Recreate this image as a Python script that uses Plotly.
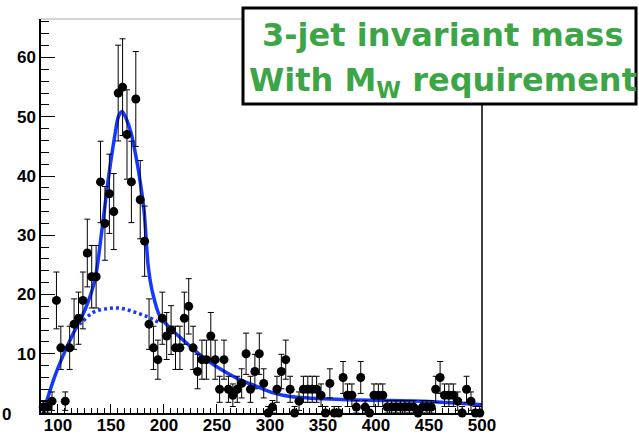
import numpy as np
import plotly.graph_objects as go

# ---------------- data ----------------
x_lo, x_hi, n_bins = 84.0, 500.0, 100
bin_edges = np.linspace(x_lo, x_hi, n_bins + 1)
bin_centers = 0.5 * (bin_edges[:-1] + bin_edges[1:])

counts = [
    1, 1, 2, 19, 11, 2, 11, 15, 16, 19,
    27, 23, 23, 39, 32, 37, 34, 54, 55, 47,
    39, 53, 36, 29, 15, 11, 9, 16, 13, 14,
    11, 11, 16, 18, 11, 7, 9, 9, 13, 9,
    4, 9, 4, 3, 4, 5, 10, 4, 7, 10,
    5, 0, 1, 4, 7, 9, 4, 0, 2, 4,
    4, 4, 4, 3, 0, 5, 0, 0, 6, 3,
    3, 1, 6, 1, 0, 3, 3, 3, 1, 1,
    1, 1, 1, 1, 1, 0, 1, 1, 1, 4,
    6, 3, 3, 3, 2, 0, 4, 2, 0, 0,
]

# total fit (signal + background)
fit_x = [86.5, 88, 92, 97, 106.6, 116, 125.5, 134.9, 141.2, 147.5, 153.8, 157,
         160.5, 164.8, 168.9, 173.6, 178.3, 181.4, 185.2, 189, 196.2, 208.8,
         221.4, 234, 246.5, 259.2, 271.7, 287.4, 303.2, 318.9, 350.2, 381.7,
         413, 444.3, 475.8, 500]
fit_y = [0, 1.2, 3.5, 6.2, 10.4, 14, 17.4, 22.5, 30.5, 39.5, 47, 50,
         50.9, 49.5, 47.3, 43.3, 38.2, 33.8, 24.7, 20.5, 16.3, 13.8,
         11.8, 9.8, 8.2, 6.8, 5.6, 4.5, 3.4, 2.8, 2.4, 2.2,
         2.1, 2.0, 1.7, 1.4]

# background component (dotted)
bkg_x = [116, 122.4, 133.3, 146, 158.5, 171, 183.7, 196.2]
bkg_y = [14.2, 15.3, 17.0, 17.6, 17.7, 17.1, 16.3, 15.2]

x_ticks = [100, 150, 200, 250, 300, 350, 400, 450, 500]
y_ticks = [0, 10, 20, 30, 40, 50, 60]

# ---------------- figure ----------------
counts_arr = np.array(counts, dtype=float)
err = 1.1 * np.sqrt(np.maximum(counts_arr, 1.0))
err_minus = np.minimum(err, counts_arr)

W, H = 639, 434
L, R, T, B = 41, 482, 19, 413
blue = "#1438ff"

fig = go.Figure()

fig.add_trace(go.Scatter(
    x=bkg_x, y=bkg_y, mode="lines",
    line=dict(color=blue, width=3.5, dash="3px,3px", shape="spline", smoothing=1),
    hoverinfo="skip", showlegend=False,
))
fig.add_trace(go.Scatter(
    x=fit_x, y=fit_y, mode="lines",
    line=dict(color=blue, width=3.5, shape="spline", smoothing=0.8),
    hoverinfo="skip", showlegend=False,
))
fig.add_trace(go.Scatter(
    x=bin_centers, y=counts_arr, mode="markers",
    marker=dict(color="black", size=9),
    error_y=dict(type="data", array=err, arrayminus=err_minus,
                 color="black", thickness=1, width=3),
    cliponaxis=False, showlegend=False,
))

fig.update_layout(
    width=W, height=H,
    margin=dict(l=L, r=W - R, t=T, b=H - B, pad=0),
    paper_bgcolor="white", plot_bgcolor="white",
    font=dict(family="Liberation Sans, Arial, sans-serif", color="black"),
    showlegend=False,
)

tick_font = dict(size=17, family="Liberation Sans, Arial", weight="bold", color="black")

fig.update_xaxes(
    range=[x_lo, x_hi], showgrid=False, zeroline=False, automargin=False,
    showline=True, linecolor="black", linewidth=1.5,
    tickmode="array", tickvals=x_ticks, ticktext=[str(v) for v in x_ticks],
    ticks="inside", ticklen=9, tickwidth=1, tickcolor="black",
    tickfont=tick_font, ticklabelstandoff=-4,
    minor=dict(tickmode="linear", tick0=100, dtick=6.25, ticks="inside",
               ticklen=5, tickcolor="black", tickwidth=1),
)
fig.update_yaxes(
    range=[0, 66.5], showgrid=False, zeroline=False, automargin=False,
    showline=True, linecolor="black", linewidth=1.5,
    tickmode="array", tickvals=y_ticks,
    ticktext=["" if v == 0 else str(v) for v in y_ticks],
    ticks="inside", ticklen=14, tickwidth=1, tickcolor="black",
    tickfont=tick_font,
    minor=dict(tickmode="linear", tick0=0, dtick=2, ticks="inside",
               ticklen=8, tickcolor="black", tickwidth=1),
)

def px_x(p):
    return (p - L) / (R - L)

def px_y(p):
    return (B - p) / (B - T)

# frame: top (light) and right edges
fig.add_shape(type="line", xref="paper", yref="paper",
              x0=0, x1=1, y0=1, y1=1, line=dict(color="#aaaaaa", width=1))
fig.add_shape(type="line", xref="paper", yref="paper",
              x0=1, x1=1, y0=0, y1=1, line=dict(color="black", width=1.5))

# title box
fig.add_shape(type="rect", xref="paper", yref="paper",
              x0=px_x(243), x1=px_x(636), y0=px_y(104), y1=px_y(8),
              fillcolor="white", line=dict(color="black", width=3), layer="above")

green = "#3ca646"
title_font = dict(family="DejaVu Sans, Verdana, sans-serif", size=32,
                  color=green, weight="bold")
fig.add_annotation(xref="paper", yref="paper", x=px_x(442), y=px_y(35),
                   text="3-jet invariant mass", showarrow=False,
                   xanchor="center", yanchor="middle", font=title_font)
fig.add_annotation(xref="paper", yref="paper", x=px_x(443), y=px_y(82),
                   text="With M<sub>W</sub> requirement", showarrow=False,
                   xanchor="center", yanchor="middle", font=title_font)

# the lone "0" label at the lower left
fig.add_annotation(xref="paper", yref="paper", x=px_x(6), y=px_y(414),
                   text="0", showarrow=False, xanchor="center", yanchor="middle",
                   font=tick_font)

fig.write_html("out.html")
